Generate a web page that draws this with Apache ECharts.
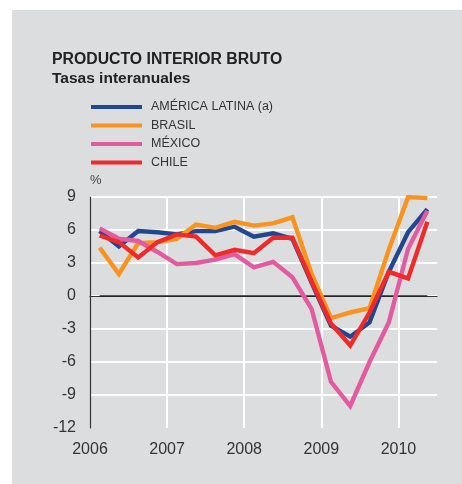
<!DOCTYPE html>
<html>
<head>
<meta charset="utf-8">
<script src="https://cdn.jsdelivr.net/npm/echarts@6/dist/echarts.min.js"></script>
<style>
html,body{margin:0;padding:0;background:#fff;}
#bg{position:absolute;left:12px;top:10px;width:450px;height:474px;background:#dcdddf;}
#chart{position:absolute;left:0;top:0;width:462px;height:484px;}
</style>
</head>
<body>
<div id="bg"></div>
<div id="chart"></div>
<script>
// Quarterly observations (mid-quarter positions), 2006 Q1 .. 2010 Q2
var quarters = [2006.125,2006.375,2006.625,2006.875,2007.125,2007.375,2007.625,2007.875,
                2008.125,2008.375,2008.625,2008.875,2009.125,2009.375,2009.625,2009.875,
                2010.125,2010.375];
var americaLatina = [5.9,4.5,5.9,5.8,5.6,5.9,5.9,6.3,5.4,5.7,5.2,1.2,-2.7,-3.7,-2.4,2.2,5.8,7.9];
var brasil        = [4.4,2.0,4.8,4.9,5.2,6.5,6.2,6.75,6.4,6.6,7.15,2.0,-2.0,-1.5,-1.1,4.2,9.0,8.9];
var mexico        = [6.15,5.2,5.0,4.0,2.9,3.0,3.3,3.8,2.6,3.1,1.7,-1.2,-7.8,-10.0,-6.0,-2.4,4.3,7.75];
var chile         = [5.5,4.9,3.5,4.9,5.6,5.4,3.7,4.2,3.9,5.3,5.3,1.3,-2.5,-4.5,-1.5,2.2,1.6,6.75];
var seriesNames = ['AMÉRICA LATINA (a)','BRASIL','MÉXICO','CHILE'];
var yTicks = [-12,-9,-6,-3,0,3,6,9];
var xYears = [2006,2007,2008,2009,2010];

var colors = ['#22478f','#f7931e','#e35b9f','#ee2b2a'];
var FONT = '"Liberation Sans", Arial, sans-serif';

function pairs(vals){ return quarters.map(function(q,i){ return [q, vals[i]]; }); }
var allData = [americaLatina, brasil, mexico, chile];

var series = allData.map(function(vals, i){
  return {
    name: seriesNames[i], type: 'line', data: pairs(vals),
    showSymbol: false, symbol: 'none', z: 3 + i,
    lineStyle: {width: 4.4, color: colors[i], join: 'miter'},
    itemStyle: {color: colors[i]},
    animation: false
  };
});
// zero reference line
series.push({
  type: 'line', data: [[quarters[0],0],[quarters[quarters.length-1],0]],
  showSymbol: false, symbol: 'none', z: 2, silent: true,
  lineStyle: {width: 1.3, color: '#222'}, animation: false
});

var chart = echarts.init(document.getElementById('chart'), null, {renderer: 'canvas'});
chart.setOption({
  backgroundColor: 'transparent',
  animation: false,
  color: colors,
  grid: {left: 90, right: 25, top: 197, bottom: 56, containLabel: false},
  graphic: [
    {type: 'text', left: 52, top: 52, style: {text: 'PRODUCTO INTERIOR BRUTO', font: '600 15.8px ' + FONT, fill: '#222'}},
    {type: 'text', left: 52, top: 71, style: {text: 'Tasas interanuales', font: '600 15.5px ' + FONT, fill: '#222'}},
    {type: 'text', left: 90, top: 174, style: {text: '%', font: '13px ' + FONT, fill: '#444'}}
  ],
  legend: {
    orient: 'vertical', left: 91, top: 100, padding: 0,
    data: seriesNames,
    icon: 'rect', itemWidth: 51, itemHeight: 4, itemGap: 4.5,
    textStyle: {fontFamily: FONT, fontSize: 12.5, color: '#333', padding: [0,0,0,4], lineHeight: 14},
    selectedMode: false
  },
  xAxis: {
    type: 'value', min: 2006, max: 2010.5, interval: 1,
    axisLine: {show: true, lineStyle: {color: '#333', width: 1.2}},
    axisTick: {show: false},
    axisLabel: {
      show: true, margin: 14, color: '#333', fontFamily: FONT, fontSize: 16,
      showMaxLabel: false,
      formatter: function(v){ return xYears.indexOf(v) >= 0 ? String(v) : ''; }
    },
    splitLine: {show: true, showMinLine: false, showMaxLine: false, lineStyle: {color: '#ffffff', width: 2}}
  },
  yAxis: {
    type: 'value', min: -12, max: 9, interval: 3,
    axisLine: {show: true, onZero: false, lineStyle: {color: '#333', width: 1.2}},
    axisTick: {show: false},
    axisLabel: {
      margin: 14, color: '#333', fontFamily: FONT, fontSize: 16,
      formatter: function(v){ return yTicks.indexOf(v) >= 0 ? String(v) : ''; }
    },
    splitLine: {show: true, showMinLine: false, lineStyle: {color: '#ffffff', width: 2}}
  },
  series: series
});
</script>
</body>
</html>
